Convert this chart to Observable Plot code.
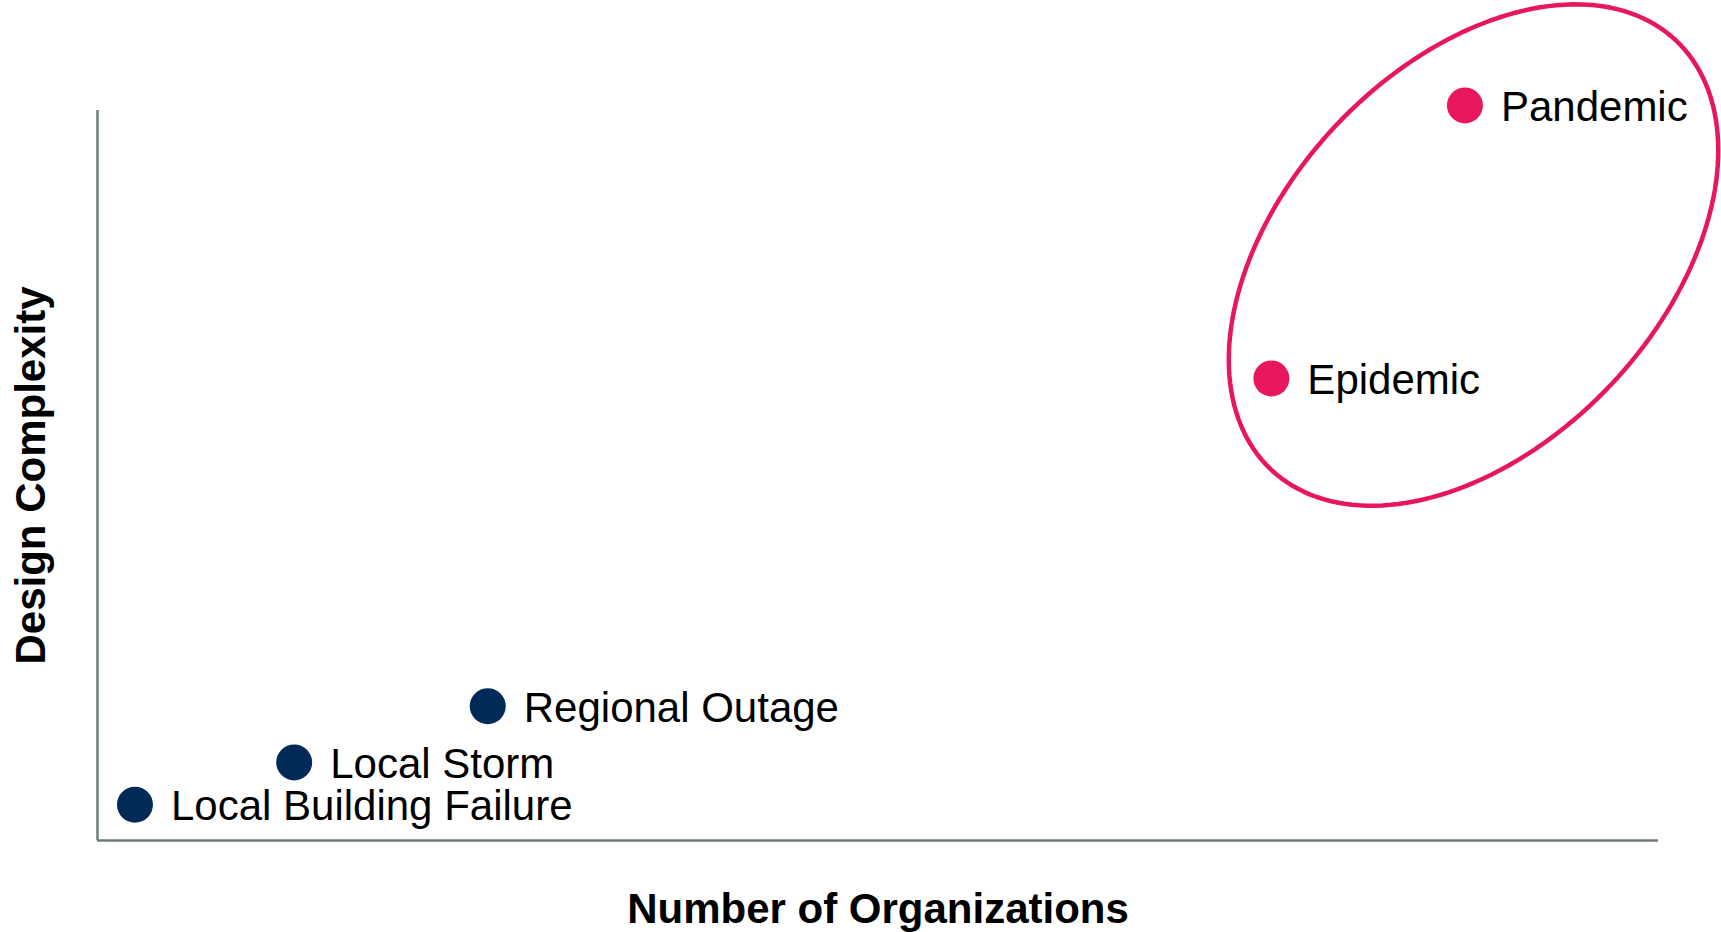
<!DOCTYPE html>
<html>
<head>
<meta charset="utf-8">
<script src="https://cdn.jsdelivr.net/npm/d3@7"></script>
<script src="https://cdn.jsdelivr.net/npm/@observablehq/plot@0.6"></script>
<style>
  html, body { margin: 0; padding: 0; background: #ffffff; }
</style>
</head>
<body>
<div id="chart"></div>
<script>
// ---- data ----
const names = ["Local Building Failure", "Local Storm", "Regional Outage", "Epidemic", "Pandemic"];
const organizations = [2.4, 12.6, 25.0, 75.2, 87.6];   // x (relative)
const complexity = [4.9, 10.7, 18.4, 63.3, 100.7];     // y (relative)
const groups = ["local", "local", "local", "wide", "wide"];

const xTitle = "Number of Organizations";
const yTitle = "Design Complexity";

// highlight ellipse around the wide-scale group (centre in data units, semi-axes in px, tilt in deg)
const ellipseCenter = [88.15, 80.2];
const ellipseAxes = [295, 189];
const ellipseTilt = 46.65;

const colors = {local: "#022a57", wide: "#e8175d"};
const axisColor = "#6f7b7b";

// ---- layout ----
const W = 1721, H = 932;
const mL = 97, mR = 63, mT = 110, mB = 92;
const xDomain = [0, 100], yDomain = [0, 100];

const rows = names.map((n, i) => ({name: n, x: organizations[i], y: complexity[i], g: groups[i]}));

// ellipse outline expressed in data units
const kx = (W - mL - mR) / (xDomain[1] - xDomain[0]);
const ky = (H - mT - mB) / (yDomain[1] - yDomain[0]);
const th = ellipseTilt * Math.PI / 180;
const ell = d3.range(0, 361, 2).map(deg => {
  const t = deg * Math.PI / 180;
  const px = ellipseAxes[0] * Math.cos(t) * Math.cos(th) - ellipseAxes[1] * Math.sin(t) * Math.sin(th);
  const py = ellipseAxes[0] * Math.cos(t) * Math.sin(th) + ellipseAxes[1] * Math.sin(t) * Math.cos(th);
  return {x: ellipseCenter[0] + px / kx, y: ellipseCenter[1] + py / ky};
});

const font = "'Liberation Sans', Arial, Helvetica, sans-serif";

const chart = Plot.plot({
  width: W,
  height: H,
  marginLeft: mL, marginRight: mR, marginTop: mT, marginBottom: mB,
  style: {fontFamily: font, background: "#ffffff", overflow: "visible"},
  x: {domain: xDomain, axis: null},
  y: {domain: yDomain, axis: null},
  marks: [
    Plot.ruleX([xDomain[0]], {stroke: axisColor, strokeWidth: 2.5}),
    Plot.ruleY([yDomain[0]], {stroke: axisColor, strokeWidth: 2.5}),
    Plot.line(ell, {x: "x", y: "y", stroke: colors.wide, strokeWidth: 4.5, curve: "linear-closed"}),
    Plot.dot(rows, {x: "x", y: "y", r: 18, fill: d => colors[d.g], stroke: "none"}),
    Plot.text(rows, {x: "x", y: "y", text: "name", textAnchor: "start", dx: 36, dy: 2,
      fontSize: 42, fill: "#000000", lineAnchor: "middle"}),
    Plot.text([xTitle], {frameAnchor: "bottom", textAnchor: "middle", dy: 69, fontSize: 42, fontWeight: "bold",
      fill: "#000000", lineAnchor: "middle"}),
    Plot.text([yTitle], {frameAnchor: "left", textAnchor: "middle", dx: -66, rotate: -90, fontSize: 42, fontWeight: "bold",
      fill: "#000000", lineAnchor: "middle"})
  ]
});

document.getElementById("chart").appendChild(chart);
</script>
</body>
</html>
